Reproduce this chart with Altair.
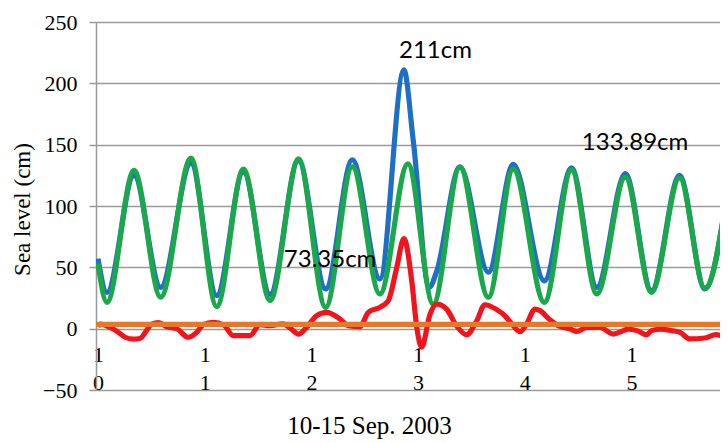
import altair as alt
import pandas as pd

# hours since 10 Sep 2003 00:00
obs_hours = [0.0, 2.0, 8.1, 14.1, 20.9, 26.7, 32.7, 38.7, 45.1, 51.2, 57.2, 63.4, 68.8, 70.9,
             74.5, 76.2, 81.4, 87.8, 93.4, 100.4, 106.5, 112.2, 118.6, 124.5, 130.8, 136.5, 141.7]
obs_cm = [57, 29.6, 125, 33.7, 135, 27, 128, 28, 137, 32.4, 137.7, 40.5, 211, 153.5,
          33.7, 47, 132, 46, 134, 39, 131, 33.7, 126.5, 31, 125, 32.4, 115]

pred_hours = [0.0, 2.0, 8.1, 14.1, 20.9, 26.7, 32.7, 38.7, 45.1, 51.2, 57.2, 63.4, 69.7,
              75.4, 81.4, 87.8, 93.4, 100.4, 106.5, 112.2, 118.6, 124.5, 130.8, 136.5, 141.7]
pred_cm = [53, 21.5, 129, 25.6, 139, 18, 130, 23, 138.5, 17.4, 132, 28.3, 134.4,
           20, 131.7, 25.6, 130, 21.5, 129.5, 28.3, 123.5, 29.6, 123, 33, 113]

surge_hours = [0.0, 0.45, 2.7, 4.2, 6.1, 7.9, 9.4, 12.1, 13.6, 15.5, 17.7, 20.3, 22.2, 23.7,
               25.9, 28.3, 30.4, 34.2, 36.4, 38.7, 41.6, 43.2, 45.1, 46.9, 49.2, 51.4, 54.4,
               56.3, 58.9, 60.8, 63.4, 65.3, 67.2, 68.8, 70.6, 71.7, 72.8, 74.7, 76.2, 78.4,
               80.7, 82.9, 85.2, 87.0, 89.7, 91.5, 93.4, 94.9, 96.4, 98.3, 99.4, 101.7, 103.5,
               106.2, 107.7, 109.9, 112.9, 115.9, 118.2, 119.2, 121.2, 123.4, 124.5, 126.7,
               129.0, 130.9, 133.1, 136.5, 139.0, 141.5]
surge_cm = [1.5, 3.8, 1, -2, -7, -8.5, -8, 3.8, 5, 1.6, 0, -7, -3, 3.3,
            5.2, 3, -5.7, -5.7, 3.3, 2.4, 4, 0.5, -4.4, 1, 10.6, 13.3, 7.9,
            2.4, 1.6, 13.3, 17.4, 22.9, 50, 73.35, 38, 1, -15, 12, 20, 16,
            2, -5, 6.5, 19.5, 15.5, 10.6, 2.4, -2.5, 3.8, 16, 14.7, 7, 2.4,
            -0.3, -2.2, 1, 1, -4.4, -1.6, -0.3, -1.6, -5, -1.6, -0.3,
            -1.6, -3, -8.4, -7.6, -4.9, -7.6]

ref_hours = [-0.45, 141.7]
ref_cm = [3.5, 3.5]

day_ticks = [0, 24, 48, 72, 96, 120]
y_ticks = [-50, 0, 50, 100, 150, 200, 250]

note_text = ["211cm", "73.35cm", "133.89cm"]
note_hours = [75.9, 52.2, 120.8]
note_cm = [226, 55.7, 151.6]

X_DOMAIN = [-0.45, 139.9]
Y_DOMAIN = [-50, 250]
SERIF = "Liberation Serif"
GRID = "#9a9a9a"


def frame(h, v):
    return pd.DataFrame({"hour": h, "cm": v})


x_axis = alt.Axis(
    values=day_ticks,
    labelExpr="split(toString(10 + datum.value / 24), '')",
    labelFont=SERIF, labelFontSize=22, labelColor="black",
    labelLineHeight=28, labelPadding=16, labelBaseline="top", labelAlign="center",
    ticks=False, tickSize=0, domain=False, grid=False, offset=-61.25,
    title="10-15 Sep. 2003", titleFont=SERIF, titleFontSize=25,
    titleFontWeight="normal", titleColor="black",
    titleX=273, titleY=97, titleAlign="center", titleBaseline="middle",
)
y_axis = alt.Axis(
    values=y_ticks,
    labelFont=SERIF, labelFontSize=22, labelColor="black", labelPadding=12,
    tickSize=7, tickColor=GRID, tickWidth=1.5,
    domainColor=GRID, domainWidth=1.5,
    grid=True, gridColor=GRID, gridWidth=1.5,
    title="Sea level (cm)", titleFont=SERIF, titleFontSize=23,
    titleFontWeight="normal", titleColor="black",
    titleX=-74, titleY=187, titleAngle=-90, titleAlign="center", titleBaseline="middle",
)

xs = alt.Scale(domain=X_DOMAIN, nice=False, zero=False)
ys = alt.Scale(domain=Y_DOMAIN, nice=False, zero=False)
X = alt.X("hour:Q", scale=xs, axis=x_axis)
Y = alt.Y("cm:Q", scale=ys, axis=y_axis)


def line(df, color):
    return alt.Chart(df).mark_line(
        color=color, strokeWidth=5.2, interpolate="monotone", clip=True
    ).encode(x=X, y=Y)


blue = line(frame(obs_hours, obs_cm), "#1F6FC5")
green = line(frame(pred_hours, pred_cm), "#1BA84B")
red = line(frame(surge_hours, surge_cm), "#F2141C")
orange = line(frame(ref_hours, ref_cm), "#E5782B")

notes = alt.Chart(pd.DataFrame({"hour": note_hours, "cm": note_cm, "t": note_text})).mark_text(
    font="Lato", fontSize=24, color="black", align="center", baseline="middle"
).encode(x=X, y=Y, text="t:N")

chart = alt.layer(blue, green, red, orange, notes).properties(
    width=624, height=368, autosize="none",
    padding={"left": 88, "top": 14, "right": 0, "bottom": 53},
    background="white",
).configure_view(strokeWidth=0)

chart.save("out.html", embed_options={"renderer": "svg", "actions": False})
